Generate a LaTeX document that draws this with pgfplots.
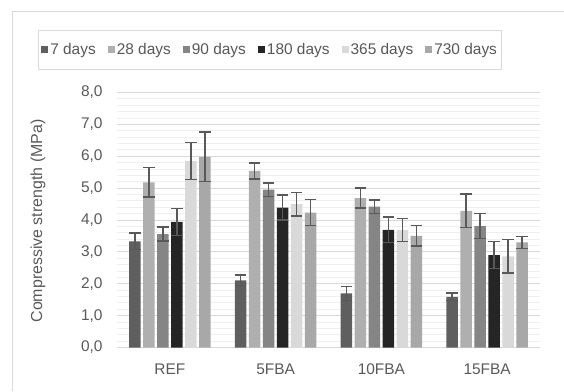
\documentclass[border=0pt]{standalone}
\usepackage{fontspec}
\setmainfont{Liberation Sans}
\usepackage{pgfplots}
\usepackage{pgfplotstable}
\pgfplotsset{compat=1.18}
\definecolor{cA}{HTML}{5F5F5F}
\definecolor{cB}{HTML}{AFAFAF}
\definecolor{cC}{HTML}{858585}
\definecolor{cD}{HTML}{252525}
\definecolor{cE}{HTML}{D9D9D9}
\definecolor{cF}{HTML}{A8A8A8}
\definecolor{errc}{HTML}{595959}
\definecolor{gridc}{HTML}{D9D9D9}
\definecolor{minc}{HTML}{EFEFEF}
\definecolor{txt}{HTML}{595959}
\pgfplotstableread{
x y e
0 3.33 0.26
1 2.11 0.17
2 1.70 0.22
3 1.59 0.12
}\tA
\pgfplotstableread{
x y e
0 5.18 0.46
1 5.54 0.25
2 4.69 0.31
3 4.29 0.53
}\tB
\pgfplotstableread{
x y e
0 3.56 0.22
1 4.95 0.21
2 4.42 0.21
3 3.81 0.39
}\tC
\pgfplotstableread{
x y e
0 3.94 0.42
1 4.39 0.39
2 3.69 0.40
3 2.90 0.42
}\tD
\pgfplotstableread{
x y e
0 5.85 0.58
1 4.50 0.37
2 3.68 0.36
3 2.86 0.52
}\tE
\pgfplotstableread{
x y e
0 5.98 0.78
1 4.23 0.41
2 3.50 0.32
3 3.30 0.19
}\tF
\newcommand{\fs}{\fontsize{15.5}{18}\selectfont}
\pgfplotsset{
  sq/.style={legend image code/.code={\fill[##1] (0bp,-3.5bp) rectangle (7bp,3.5bp);}},
  mybar/.style={fill=#1, draw=none, sq,
    error bars/.cd, y dir=both, y explicit,
    error bar style={color=errc, line width=1.4bp},
    error mark options={rotate=90, mark size=5.8bp, line width=1.4bp, color=errc}},
}
\begin{document}
\begin{tikzpicture}[x=1bp,y=1bp]
\useasboundingbox (0,0) rectangle (564,391);
\draw[gridc, line width=1bp] (12,0) -- (12,379) -- (564,379);
\begin{axis}[
  at={(117bp,43.5bp)}, anchor=south west,
  scale only axis, width=423bp, height=255bp,
  ybar=2.7bp, bar width=11.3bp,
  xmin=-0.5, xmax=3.5, ymin=0, ymax=8,
  xtick={0,1,2,3}, xticklabels={REF,5FBA,10FBA,15FBA},
  ytick={0,1,...,8},
  minor y tick num=4,
  ymajorgrids, yminorgrids,
  major grid style={gridc, line width=1bp},
  minor grid style={minc, line width=1bp},
  axis x line*=bottom, axis y line*=left,
  x axis line style={gridc, line width=1bp, -},
  y axis line style={draw=none},
  xtick style={draw=none}, ytick style={draw=none},
  minor tick style={draw=none},
  tick label style={font=\fs, text=txt},
  xticklabel style={yshift=-8bp, text height=11bp, text depth=0bp},
  yticklabel style={xshift=-11bp},
  yticklabel={\pgfmathprintnumber[fixed, fixed zerofill, precision=1, use comma, assume math mode=true]{\tick}},
  /pgf/number format/assume math mode=true,
  legend columns=6,
  legend style={at={(axis description cs:0.362,1.167)}, anchor=center,
    draw=gridc, line width=1bp, font=\fs, text=txt,
    inner xsep=3bp, inner ysep=11bp,
    nodes={inner xsep=2bp},
    /tikz/every even column/.append style={column sep=10bp}},
  legend cell align=left,
  clip=false,
]
\addplot[mybar=cA] table[x=x,y=y,y error=e]{\tA};
\addplot[mybar=cB] table[x=x,y=y,y error=e]{\tB};
\addplot[mybar=cC] table[x=x,y=y,y error=e]{\tC};
\addplot[mybar=cD] table[x=x,y=y,y error=e]{\tD};
\addplot[mybar=cE] table[x=x,y=y,y error=e]{\tE};
\addplot[mybar=cF] table[x=x,y=y,y error=e]{\tF};
\legend{7 days,28 days,90 days,180 days,365 days,730 days}
\end{axis}
\node[rotate=90, text=txt, font=\fontsize{16}{19}\selectfont] at (38,170) {Compressive strength (MPa)};
\end{tikzpicture}
\end{document}
